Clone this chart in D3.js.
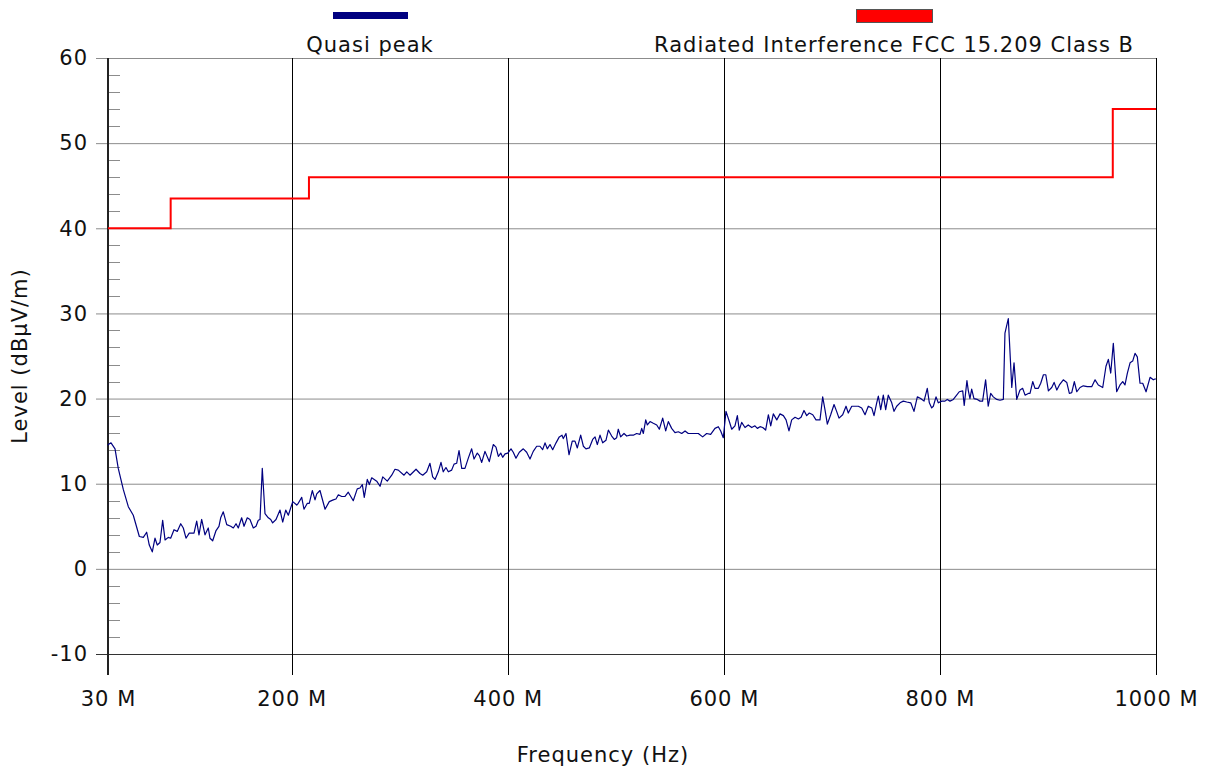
<!DOCTYPE html>
<html>
<head>
<meta charset="utf-8">
<script src="https://cdn.jsdelivr.net/npm/d3@7"></script>
<style>
  body { margin: 0; background: #fff; }
  text { font-family: "DejaVu Sans", Verdana, sans-serif; fill: #111; letter-spacing: 1px; }
</style>
</head>
<body>
<div id="chart"></div>
<script>
// tick labels
const xTicks = [30, 200, 400, 600, 800, 1000];
const yTicks = [-10, 0, 10, 20, 30, 40, 50, 60];

// limit line (FCC 15.209 class B), step after each frequency
const limitFreq = [30, 88, 216, 960, 1000];
const limitLevel = [40, 43.5, 46, 54, 54];

// quasi peak scan [MHz, dBuV/m]
const quasiPeak = [
  [30,14.5],[30.3,14.6],[32.8,14.8],[36.5,14.1],[39.5,11.8],[44.2,9.3],[48.8,7.3],[53.4,6.3],[59,3.8],[62.7,3.7],
  [65.8,4.3],[68.2,2.8],[71,2.0],[73.5,3.6],[75.6,2.8],[78.1,3.1],[80.6,5.7],[82.8,3.4],[85.8,3.7],[88,3.6],
  [91.1,4.6],[94.1,4.4],[97.3,5.3],[99.7,4.8],[102.2,3.6],[105.2,4.2],[109.6,4.2],[112.1,5.6],[114.2,4.0],[116.7,5.8],
  [119.8,4.0],[122.8,4.8],[124.4,3.6],[126.9,3.3],[130,4.5],[132.7,5.0],[134.3,6.0],[136.7,6.7],[139.9,5.2],[143.6,5.0],
  [146,4.8],[148.5,5.3],[150.6,4.8],[153.7,6.0],[155.9,5.0],[158.9,6.0],[161.4,5.8],[164.5,4.8],[167,5.0],[169.1,5.7],
  [170.7,5.8],[172.8,11.8],[175.3,6.5],[178.4,6.0],[180.6,5.8],[182.4,5.4],[185.5,5.8],[189.2,6.9],[191.7,5.5],[194.5,6.9],
  [196.9,6.3],[201,7.9],[204.7,7.5],[206.1,7.7],[209.3,8.4],[211.4,7.0],[214.5,7.7],[216.3,7.7],[219.1,9.2],[221.6,8.1],
  [223.2,8.8],[226.2,9.2],[230.9,7.0],[234.8,7.9],[238.5,8.1],[241,8.2],[243.2,8.7],[246.3,8.5],[249.4,8.5],[252.4,9.0],
  [257,8.0],[260.7,9.4],[263.2,9.5],[265.4,9.9],[267.2,8.4],[270,10.5],[271.9,9.9],[274.1,10.7],[278.7,10.3],[281.8,9.7],
  [284.3,10.8],[288.5,10.3],[292.6,11.0],[295.6,11.7],[298.7,11.6],[304,11.0],[306.5,11.4],[309.5,11.0],[315.1,11.7],[318.8,11.2],
  [321.3,11.0],[325,11.4],[328,12.4],[330.5,10.8],[332.7,10.5],[335.7,11.4],[338.2,12.5],[340.3,11.4],[342.8,11.9],[345,11.4],
  [348.1,11.6],[350.3,12.3],[352.7,12.4],[354.9,13.9],[357.4,11.8],[360.4,11.8],[363.5,13.0],[366.6,14.1],[368.8,12.9],[371.8,13.6],
  [373.7,13.3],[375.9,12.5],[378.9,13.8],[382.9,12.6],[386.6,14.6],[389.1,14.3],[391.3,13.2],[393.5,13.6],[395.3,13.1],[397.5,13.5],
  [400,13.6],[403,14.1],[405.1,13.7],[407.6,13.0],[410.7,13.7],[414.4,14.1],[417.5,13.7],[420.6,12.9],[423.6,13.8],[426.8,14.4],
  [429.8,14.4],[432.3,14.0],[434.5,14.8],[436.6,14.1],[439.1,14.6],[441.6,14.0],[444.7,14.8],[447.7,15.5],[450.2,15.7],[451.4,15.3],
  [453.9,15.9],[456.7,13.4],[459.7,15.0],[462.2,15.0],[464.4,14.2],[467.5,15.7],[470,14.4],[472.4,14.1],[475.5,14.2],[478.6,15.2],
  [480.8,15.5],[482.9,14.6],[485.4,15.7],[487.9,14.8],[490.9,15.1],[493.1,16.3],[496.2,15.6],[498.6,15.2],[500.8,15.4],[502.3,16.4],
  [504.5,15.5],[507.6,15.9],[510.1,15.6],[513.1,15.7],[516.2,15.7],[519.3,15.9],[522.4,15.8],[524,16.5],[525.5,15.9],[527.7,17.5],
  [529.2,16.9],[531.7,17.3],[534.7,17.1],[537.9,16.9],[540.3,16.4],[543.4,17.7],[546.2,16.2],[548.6,17.3],[551.7,16.5],[554.8,16.0],
  [557.9,16.1],[561,15.9],[564.1,16.2],[567.1,15.9],[571.7,15.9],[576.4,15.9],[580.4,15.5],[584.1,15.9],[587.8,15.8],[591.8,16.5],
  [594.9,16.7],[597.1,16.2],[599.5,15.4],[602,18.5],[605.1,17.3],[607.3,16.4],[610.3,16.8],[612.5,18.0],[614.3,16.3],[616.5,17.2],
  [619.6,16.6],[622.6,16.9],[625.8,16.6],[628.8,16.8],[631,16.5],[633.5,16.7],[636,16.6],[638.7,16.3],[641.2,18.1],[643.4,16.8],
  [645.8,18.2],[649,17.5],[652,18.2],[655.1,18.0],[657.6,17.5],[660.3,16.2],[662.8,17.5],[665.9,17.8],[669,17.6],[671.5,17.8],
  [674.2,18.6],[676.7,18.0],[679.1,18.3],[682.3,18.1],[685.3,17.5],[689,17.5],[691.5,20.2],[693.6,18.7],[695.8,17.0],[698.9,18.1],
  [702,19.3],[704.4,18.5],[706.6,17.7],[710,18.1],[713.1,19.1],[715.2,18.3],[718.4,19.1],[721.4,19.1],[724.5,19.1],[727.6,18.9],
  [730.7,18.1],[733.7,19.1],[736.9,18.9],[739,18.0],[741.5,19.5],[743,20.3],[745.2,18.7],[747.6,20.4],[749.8,18.7],[752.2,20.4],
  [755.4,19.5],[757.5,18.5],[760,19.1],[763.1,19.5],[766.1,19.7],[769.3,19.6],[773,19.5],[776,18.5],[779.1,20.2],[782.2,20.0],
  [785.3,19.7],[788.3,21.2],[790.2,19.5],[792.4,18.9],[793.9,19.1],[796.4,20.2],[798.5,19.5],[801.7,19.7],[804.7,19.7],[806.8,19.9],
  [809.3,19.7],[812.4,19.9],[815.5,20.4],[817.9,20.8],[821.1,20.9],[822.5,19.2],[825,22.1],[826.2,21.0],[827.8,20.0],[829.4,21.1],
  [831.5,20.0],[834.6,19.9],[837.1,19.7],[839.5,19.7],[842.3,22.2],[844.7,19.1],[847,20.6],[849.4,20.2],[852.6,19.9],[855.6,19.8],
  [858.7,19.9],[860.2,27.7],[863.3,29.4],[866.5,21.3],[868.6,24.2],[871.1,19.9],[874.1,21.0],[876.6,21.2],[878.8,20.4],[881.8,20.6],
  [883.4,20.6],[885.9,22.0],[888,21.2],[891.1,21.2],[893.3,21.8],[895.8,22.8],[898,22.8],[900.4,20.9],[903.5,21.3],[905.7,21.9],
  [908.2,21.0],[910.6,21.6],[914.2,22.2],[917.4,21.9],[919.8,20.6],[922,20.7],[924.4,22.0],[926.7,20.8],[929.7,21.3],[932.7,21.5],
  [936.4,21.4],[940.5,21.4],[943.6,22.2],[946.6,21.6],[950.7,21.3],[953.7,23.8],[955.9,24.6],[958.1,23.0],[960.5,26.5],[963.6,20.8],
  [966.7,21.6],[969.2,22.0],[971.3,21.6],[973.5,23.0],[976,24.2],[978.4,24.4],[980.6,25.3],[982.7,24.9],[985.2,21.8],[987.7,21.8],
  [990.8,20.8],[994.5,22.5],[997.5,22.2],[999,22.3],[1000,22.3]
];

const legendNames = ["Quasi peak", "Radiated Interference FCC 15.209 Class B"];
const legendColors = ["#000080", "#ff0000"];

// chart dimensions
const W = 1211, H = 769;
const margin = {top: 58, right: 55, bottom: 115, left: 108};
const width = W - margin.left - margin.right;
const height = H - margin.top - margin.bottom;
const fontSize = 21;

const svg = d3.select("#chart").append("svg")
  .attr("width", W)
  .attr("height", H);

const g = svg.append("g")
  .attr("transform", "translate(" + margin.left + "," + margin.top + ")");

const x = d3.scaleLinear().domain([30, 1000]).range([0, width]);
const y = d3.scaleLinear().domain([-10, 60]).range([height, 0]);

// horizontal grid
g.selectAll(".hgrid")
  .data(yTicks)
  .enter().append("line")
  .attr("x1", -12)
  .attr("x2", width)
  .attr("y1", d => y(d) + 0.5)
  .attr("y2", d => y(d) + 0.5)
  .attr("stroke", d => d === -10 ? "#333" : "#8c8c8c")
  .attr("stroke-width", 1);

// minor ticks every 2
g.selectAll(".minor")
  .data(y.ticks(35).filter(d => d % 10 !== 0))
  .enter().append("line")
  .attr("x1", 0)
  .attr("x2", 12)
  .attr("y1", d => Math.round(y(d)) + 0.5)
  .attr("y2", d => Math.round(y(d)) + 0.5)
  .attr("stroke", "#8c8c8c");

// vertical grid
g.selectAll(".vgrid")
  .data(xTicks)
  .enter().append("line")
  .attr("x1", d => Math.round(x(d)) + 0.5)
  .attr("x2", d => Math.round(x(d)) + 0.5)
  .attr("y1", 0)
  .attr("y2", height + 21)
  .attr("stroke", "#000")
  .attr("stroke-width", 1);

// left axis line
g.append("line")
  .attr("x1", 0).attr("x2", 0)
  .attr("y1", 0).attr("y2", height + 21)
  .attr("stroke", "#222")
  .attr("stroke-width", 2);

// axes (labels only)
const yAxis = g.append("g")
  .call(d3.axisLeft(y).tickValues(yTicks).tickFormat(d => String(d)).tickSize(12).tickPadding(8));
yAxis.select(".domain").remove();
yAxis.selectAll("line").remove();
yAxis.selectAll("text").attr("font-size", fontSize).style("font-family", null);

const xAxis = g.append("g")
  .attr("transform", "translate(0," + height + ")")
  .call(d3.axisBottom(x).tickValues(xTicks).tickFormat(d => d + " M").tickSize(21).tickPadding(16));
xAxis.select(".domain").remove();
xAxis.selectAll("line").remove();
xAxis.selectAll("text").attr("font-size", fontSize).style("font-family", null);

// limit line
const limitLine = d3.line()
  .x(d => x(d[0]))
  .y(d => y(d[1]))
  .curve(d3.curveStepAfter);

g.append("path")
  .datum(limitFreq.map((f, i) => [f, limitLevel[i]]))
  .attr("fill", "none")
  .attr("stroke", legendColors[1])
  .attr("stroke-width", 2)
  .attr("d", limitLine);

// quasi peak line
const qpLine = d3.line()
  .x(d => x(d[0]))
  .y(d => y(d[1]));

g.append("path")
  .datum(quasiPeak)
  .attr("fill", "none")
  .attr("stroke", legendColors[0])
  .attr("stroke-width", 1.2)
  .attr("stroke-linejoin", "round")
  .attr("d", qpLine);

// axis titles
svg.append("text")
  .attr("x", 603)
  .attr("y", 762)
  .attr("text-anchor", "middle")
  .attr("font-size", fontSize)
  .text("Frequency (Hz)");

svg.append("text")
  .attr("transform", "translate(27," + (margin.top + height / 2) + ") rotate(-90)")
  .attr("text-anchor", "middle")
  .attr("font-size", fontSize)
  .text("Level (dBµV/m)");

// legend
svg.append("rect")
  .attr("x", 333).attr("y", 12)
  .attr("width", 75).attr("height", 7)
  .attr("fill", legendColors[0]);
svg.append("text")
  .attr("x", 370).attr("y", 52)
  .attr("text-anchor", "middle")
  .attr("font-size", fontSize)
  .text(legendNames[0]);

svg.append("rect")
  .attr("x", 856.5).attr("y", 9.5)
  .attr("width", 76).attr("height", 13)
  .attr("fill", legendColors[1])
  .attr("stroke", "#555")
  .attr("stroke-width", 1);
svg.append("text")
  .attr("x", 894).attr("y", 52)
  .attr("text-anchor", "middle")
  .attr("font-size", fontSize)
  .text(legendNames[1]);
</script>
</body>
</html>
